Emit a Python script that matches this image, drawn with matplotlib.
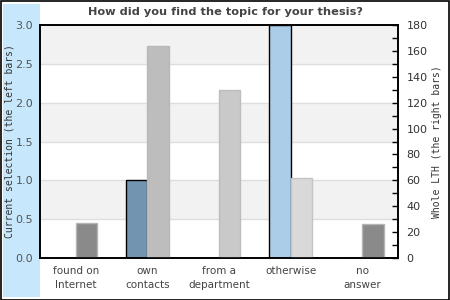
import matplotlib
matplotlib.use("Agg")
import matplotlib.pyplot as plt
from matplotlib.patches import Rectangle
from matplotlib.ticker import MultipleLocator

categories = ["found on\nInternet", "own\ncontacts", "from a\ndepartment", "otherwise", "no\nanswer"]
current_selection = [0, 1, 0, 3, 0]
whole_lth = [27, 164, 130, 62, 26]

left_colors = ["#7394b0", "#7394b0", "#7394b0", "#abcde8", "#7394b0"]
right_colors = ["#8a8a8a", "#bdbdbd", "#c9c9c9", "#d9d9d9", "#8a8a8a"]
right_edges = ["#b5b5b5", "#b8b8b8", "#bdbdbd", "#c4c4c4", "#b5b5b5"]

fig = plt.figure(figsize=(4.5, 3.0), dpi=100)
W, H = 450, 300
fig.patches.append(Rectangle((0.5 / W, 0.5 / H), 1 - 1.5 / W, 1 - 1.5 / H, transform=fig.transFigure,
                             facecolor="white", edgecolor="black", linewidth=1.2, zorder=0))
fig.patches.append(Rectangle((3 / W, 3 / H), 37 / W, 293 / H, transform=fig.transFigure,
                             facecolor="#c6e7fc", edgecolor="none", zorder=1))

ax = fig.add_axes([40 / W, 1 - 258 / H, 358 / W, 233 / H])
ax.set_zorder(2)
ax2 = ax.twinx()
ax2.set_zorder(3)
ax2.patch.set_visible(False)

ax.set_xlim(-0.5, 4.5)
ax.set_ylim(0, 3)
ax2.set_ylim(0, 180)

for i in range(6):
    lo = i * 0.5
    if i % 2 == 1:
        ax.axhspan(lo, lo + 0.5, facecolor="#f2f2f2", edgecolor="none", zorder=0)
for i in range(1, 6):
    ax.axhline(i * 0.5, color="#dedede", linewidth=1.0, zorder=0.5)

x = list(range(len(categories)))
bw = 0.3
ax2.bar([i + bw / 2 for i in x], whole_lth, width=bw, color=right_colors,
        edgecolor=right_edges, linewidth=1.0, zorder=2)
ax.bar([i - bw / 2 for i in x], current_selection, width=bw, color=left_colors,
       edgecolor="black", linewidth=1.0, zorder=2)

for s in ax.spines.values():
    s.set_color("black")
    s.set_linewidth(1.2)
for s in ax2.spines.values():
    s.set_color("black")
    s.set_linewidth(1.2)

ax.set_yticks([0, 0.5, 1.0, 1.5, 2.0, 2.5, 3.0])
ax.set_yticklabels(["0.0", "0.5", "1.0", "1.5", "2.0", "2.5", "3.0"])
ax.tick_params(axis="y", length=0, pad=5, labelsize=8, labelcolor="#555555")
ax.set_xticks(x)
ax.set_xticklabels(categories, linespacing=1.45)
ax.tick_params(axis="x", length=0, pad=6, labelsize=7.5, labelcolor="#444444")

ax2.yaxis.set_major_locator(MultipleLocator(20))
ax2.yaxis.set_minor_locator(MultipleLocator(10))
ax2.tick_params(axis="y", which="major", direction="in", length=4, width=1, pad=6,
                labelsize=8, labelcolor="#333333", color="black")
ax2.tick_params(axis="y", which="minor", direction="in", length=4, width=1, color="black")

ax.set_ylabel("Current selection (the left bars)", family="DejaVu Sans Mono",
              fontsize=7, color="#333333")
ax2.set_ylabel("Whole LTH (the right bars)", family="DejaVu Sans Mono",
               fontsize=7, color="#333333", labelpad=3)
ax.yaxis.set_label_coords(-25 / 358, 0.5)

fig.text(0.5, 1 - 12 / H, "How did you find the topic for your thesis?", ha="center", va="center",
         fontsize=8.2, fontweight="bold", color="#444444")

fig.savefig("out.png", dpi=100)
